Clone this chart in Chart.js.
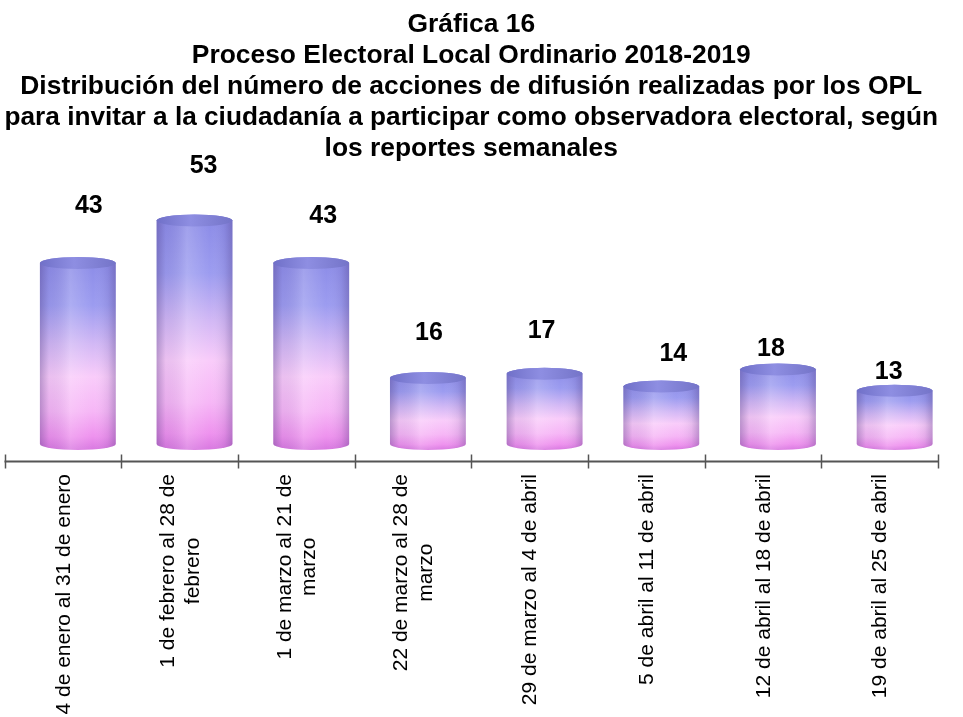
<!DOCTYPE html>
<html lang="es">
<head>
<meta charset="utf-8">
<title>Gráfica 16</title>
<script src="https://cdn.jsdelivr.net/npm/chart.js@4.4.1/dist/chart.umd.min.js"></script>
<style>
  html, body { margin: 0; padding: 0; background: #fff; }
  #wrap { width: 963px; height: 717px; position: relative; }
</style>
</head>
<body>
<div id="wrap"><canvas id="grafica"></canvas></div>
<script>
// datos de la gráfica
const semanas = [
  ['4 de enero al 31 de enero'],
  ['1 de febrero al 28 de', 'febrero'],
  ['1 de marzo al 21 de', 'marzo'],
  ['22 de marzo al 28 de', 'marzo'],
  ['29 de marzo al 4 de abril'],
  ['5 de abril al 11 de abril'],
  ['12 de abril al 18 de abril'],
  ['19 de abril al 25 de abril']
];
const acciones = [43, 53, 43, 16, 17, 14, 18, 13];

const titulo = [
  'Gráfica 16',
  'Proceso Electoral Local Ordinario 2018-2019',
  'Distribución del número de acciones de difusión realizadas por los OPL',
  'para invitar a la ciudadanía a participar como observadora electoral, según',
  'los reportes semanales'
];

// desplazamiento de las etiquetas de valor (como en el original, no van centradas)
const etiquetaDx = [11, 9, 12, 1, -3, 12, -7, -6];
const etiquetaDy = [-51, -48, -41, -39, -37, -26, -14, -13];

const FUENTE = '"Liberation Sans", Arial, sans-serif';
const PROFUNDIDAD = 15; // corrimiento 3D de los cilindros
const RY = 6;

function cilindro(ctx, cx, yTop, yBot, w) {
  const rx = w / 2;
  const izq = cx - rx, der = cx + rx;

  const cuerpo = () => {
    ctx.beginPath();
    ctx.moveTo(izq, yTop);
    ctx.lineTo(izq, yBot);
    ctx.ellipse(cx, yBot, rx, RY, 0, Math.PI, 0, true);
    ctx.lineTo(der, yTop);
    ctx.ellipse(cx, yTop, rx, RY, 0, 0, Math.PI, true);
    ctx.closePath();
  };

  const g = ctx.createLinearGradient(0, yTop - RY, 0, yBot + RY);
  g.addColorStop(0, '#8a8ae6');
  g.addColorStop(0.25, '#9c9cf0');
  g.addColorStop(0.45, '#d2b8f5');
  g.addColorStop(0.62, '#f9ccfa');
  g.addColorStop(0.8, '#f6b6f6');
  g.addColorStop(0.93, '#ee92ee');
  g.addColorStop(1, '#d878e0');
  cuerpo();
  ctx.fillStyle = g;
  ctx.fill();

  const h = ctx.createLinearGradient(izq, 0, der, 0);
  h.addColorStop(0, 'rgba(70,50,120,0.35)');
  h.addColorStop(0.12, 'rgba(70,50,120,0.08)');
  h.addColorStop(0.4, 'rgba(255,255,255,0.18)');
  h.addColorStop(0.7, 'rgba(255,255,255,0)');
  h.addColorStop(0.9, 'rgba(70,50,120,0.1)');
  h.addColorStop(1, 'rgba(70,50,120,0.32)');
  cuerpo();
  ctx.fillStyle = h;
  ctx.fill();

  const tapa = ctx.createLinearGradient(izq, 0, der, 0);
  tapa.addColorStop(0, '#7070c8');
  tapa.addColorStop(0.45, '#8e8ee2');
  tapa.addColorStop(1, '#7474c8');
  ctx.beginPath();
  ctx.ellipse(cx, yTop, rx, RY, 0, 0, Math.PI * 2);
  ctx.fillStyle = tapa;
  ctx.fill();
}

const cilindros = {
  id: 'cilindros',
  afterDatasetsDraw(chart) {
    const ctx = chart.ctx;
    const meta = chart.getDatasetMeta(0);
    ctx.save();
    meta.data.forEach((bar, i) => {
      const { x, y, base, width } = bar.getProps(['x', 'y', 'base', 'width'], true);
      const cx = x + PROFUNDIDAD;
      // la tapa sobresale por encima del valor, la base se apoya en el cero
      cilindro(ctx, cx, y - 4, base - RY, width);
      // etiqueta de valor
      ctx.font = 'bold 25px ' + FUENTE;
      ctx.fillStyle = '#000';
      ctx.textAlign = 'center';
      ctx.textBaseline = 'middle';
      ctx.fillText(String(acciones[i]), cx + etiquetaDx[i], y - 4 - RY + etiquetaDy[i]);
    });
    ctx.restore();
  }
};

const ejeX = {
  id: 'ejeX',
  afterDraw(chart) {
    const ctx = chart.ctx;
    const area = chart.chartArea;
    const xs = chart.scales.x;
    const y0 = area.bottom;
    ctx.save();
    ctx.strokeStyle = '#555';
    ctx.lineWidth = 2;
    ctx.beginPath();
    ctx.moveTo(area.left, y0);
    ctx.lineTo(area.right, y0);
    ctx.stroke();
    ctx.lineWidth = 1.5;
    for (let i = 0; i <= semanas.length; i++) {
      const bx = Math.round(xs.getPixelForValue(i - 0.5)) + 0.5;
      ctx.beginPath();
      ctx.moveTo(bx, y0 - 7);
      ctx.lineTo(bx, y0 + 7);
      ctx.stroke();
    }
    // etiquetas rotadas
    ctx.fillStyle = '#000';
    ctx.font = '21px ' + FUENTE;
    ctx.textAlign = 'center';
    ctx.textBaseline = 'middle';
    chart.data.labels.forEach((lineas, i) => {
      const cx = xs.getPixelForValue(i) + 1;
      const anchoMax = Math.max(...lineas.map(l => ctx.measureText(l).width));
      ctx.save();
      ctx.translate(cx, y0 + 12.5);
      ctx.rotate(-Math.PI / 2);
      lineas.forEach((l, j) => {
        ctx.fillText(l, -anchoMax / 2, (j - (lineas.length - 1) / 2) * 24.5);
      });
      ctx.restore();
    });
    ctx.restore();
  }
};

new Chart(document.getElementById('grafica'), {
  type: 'bar',
  data: {
    labels: semanas,
    datasets: [{
      label: 'Acciones de difusión',
      data: acciones,
      backgroundColor: 'rgba(0,0,0,0)',
      borderWidth: 0,
      barPercentage: 0.65,
      categoryPercentage: 1
    }]
  },
  options: {
    responsive: true,
    maintainAspectRatio: false,
    animation: false,
    layout: { padding: { left: 4.5, right: 25, top: 0, bottom: 255.5 } },
    plugins: {
      legend: { display: false },
      tooltip: { enabled: false },
      title: {
        display: true,
        text: titulo,
        color: '#000',
        font: { family: FUENTE, size: 26.4, weight: 'bold', lineHeight: 1.18 },
        padding: { top: 9, bottom: 20 }
      }
    },
    scales: {
      x: { display: false },
      y: { display: false, min: -2.7, max: 62.35 }
    }
  },
  plugins: [cilindros, ejeX]
});
</script>
</body>
</html>
